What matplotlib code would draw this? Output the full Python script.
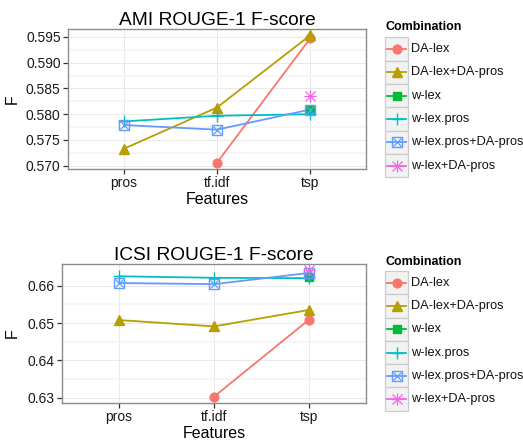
import numpy as np
import matplotlib
matplotlib.use('Agg')
import matplotlib.pyplot as plt
from matplotlib.patches import Rectangle

plt.rcParams['font.family'] = ['Liberation Sans', 'DejaVu Sans']

features = ["pros", "tf.idf", "tsp"]
combos = ["DA-lex", "DA-lex+DA-pros", "w-lex", "w-lex.pros",
          "w-lex.pros+DA-pros", "w-lex+DA-pros"]
colors = ["#F8766D", "#B79F00", "#00BA38", "#00BFC4", "#619CFF", "#F564E3"]
nan = np.nan

# AMI values per combination (pros, tf.idf, tsp)
ami_da_lex = [nan, 0.5706, 0.5947]
ami_da_lex_da_pros = [0.5733, 0.5813, 0.5953]
ami_w_lex = [nan, nan, 0.5809]
ami_w_lex_pros = [0.5786, 0.5797, 0.5800]
ami_w_lex_pros_da_pros = [0.5779, 0.5770, 0.5809]
ami_w_lex_da_pros = [nan, nan, 0.5835]

# ICSI values per combination (pros, tf.idf, tsp)
icsi_da_lex = [nan, 0.6303, 0.6509]
icsi_da_lex_da_pros = [0.6508, 0.6491, 0.6535]
icsi_w_lex = [nan, nan, 0.6623]
icsi_w_lex_pros = [0.6625, 0.6621, 0.6620]
icsi_w_lex_pros_da_pros = [0.6607, 0.6604, 0.6634]
icsi_w_lex_da_pros = [nan, nan, 0.6641]

ami = [ami_da_lex, ami_da_lex_da_pros, ami_w_lex, ami_w_lex_pros,
       ami_w_lex_pros_da_pros, ami_w_lex_da_pros]
icsi = [icsi_da_lex, icsi_da_lex_da_pros, icsi_w_lex, icsi_w_lex_pros,
        icsi_w_lex_pros_da_pros, icsi_w_lex_da_pros]

W, H = 523, 440


def px_axes(fig, left, top, right, bottom):
    return fig.add_axes([left / W, 1 - bottom / H, (right - left) / W, (bottom - top) / H])


def draw_marker(ax, x, y, i, color):
    """ggplot shapes 16, 17, 15, 3, 7, 8"""
    kw = dict(linestyle='none', color=color, zorder=4)
    if i == 0:
        ax.plot(x, y, marker='o', ms=6.3, mec=color, **kw)
    elif i == 1:
        ax.plot(x, y, marker='^', ms=7.5, mec=color, **kw)
    elif i == 2:
        ax.plot(x, y, marker='s', ms=5.8, mec=color, **kw)
    elif i == 3:
        ax.plot(x, y, marker='+', ms=9, mew=1.0, **kw)
    elif i == 4:
        ax.plot(x, y, marker='s', ms=6.5, mfc='none', mew=1.0, **kw)
        ax.plot(x, y, marker='x', ms=5.5, mew=0.9, **kw)
    else:
        ax.plot(x, y, marker='+', ms=8.5, mew=0.9, **kw)
        ax.plot(x, y, marker='x', ms=6.5, mew=0.9, **kw)


def draw_panel(ax, data, title, major, minor, fmt, left_px):
    xs = np.arange(len(features))
    vals = np.array(data, dtype=float)
    lo, hi = np.nanmin(vals), np.nanmax(vals)
    pad = (hi - lo) * 0.05
    ax.set_ylim(lo - pad, hi + pad)
    ax.set_xlim(-0.6, len(features) - 1 + 0.6)
    ax.set_yticks(major)
    ax.set_yticks(minor, minor=True)
    ax.set_yticklabels([fmt.format(v) for v in major])
    ax.set_xticks(xs)
    ax.set_xticklabels(features)
    ax.grid(True, which='major', color='#e5e5e5', lw=0.6, zorder=0)
    ax.grid(True, which='minor', axis='y', color='#f5f5f5', lw=1.2, zorder=0)
    ax.set_axisbelow(True)
    for s in ax.spines.values():
        s.set_color('#8c8c8c')
        s.set_linewidth(1.0)
    ax.tick_params(which='major', length=3.8, width=0.9, color='#333333',
                   labelsize=10, labelcolor='#1a1a1a', pad=1.5)
    ax.tick_params(which='minor', length=0)
    for i, ys in enumerate(vals):
        ax.plot(xs, ys, color=colors[i], lw=1.3, zorder=3)
    for i, ys in enumerate(vals):
        draw_marker(ax, xs, ys, i, colors[i])
    ax.set_title(title, fontsize=13.8, pad=3)
    ax.set_xlabel('Features', fontsize=11.5, labelpad=1)
    ax.set_ylabel('F', fontsize=11.5)
    # put the y label near x = 20 px of the figure
    width_px = ax.get_position().width * W
    ax.yaxis.set_label_coords((20 - left_px) / width_px, 0.5)


def draw_legend(lax, x0, y_title, y_keys):
    key_h = 23.3
    lax.text(x0 + 1, y_title, 'Combination', fontsize=9, fontweight='bold',
             ha='left', va='center')
    for i, name in enumerate(combos):
        yt = y_keys + i * key_h
        lax.add_patch(Rectangle((x0, yt), 23, key_h, facecolor='#f2f2f2',
                                edgecolor='#cccccc', lw=0.9))
        yc = yt + key_h / 2
        lax.plot([x0 + 2, x0 + 21], [yc, yc], color=colors[i], lw=1.3)
        draw_marker(lax, [x0 + 11.5], [yc], i, colors[i])
        lax.text(x0 + 26, yc, name, fontsize=9.2, ha='left', va='center', color='#111111')


fig = plt.figure(figsize=(W / 100, H / 100), dpi=100)

ax1 = px_axes(fig, 68, 29, 366, 169)
draw_panel(ax1, ami, 'AMI ROUGE-1 F-score',
           [0.570, 0.575, 0.580, 0.585, 0.590, 0.595],
           [0.5725, 0.5775, 0.5825, 0.5875, 0.5925], '{:.3f}', 68)

ax2 = px_axes(fig, 62, 264, 366, 403)
draw_panel(ax2, icsi, 'ICSI ROUGE-1 F-score',
           [0.63, 0.64, 0.65, 0.66],
           [0.635, 0.645, 0.655], '{:.2f}', 62)

lax = fig.add_axes([0, 0, 1, 1])
lax.set_xlim(0, W)
lax.set_ylim(H, 0)
lax.axis('off')
draw_legend(lax, 385, 27, 37.5)
draw_legend(lax, 385, 262, 271)

fig.savefig('out.png', dpi=100)
